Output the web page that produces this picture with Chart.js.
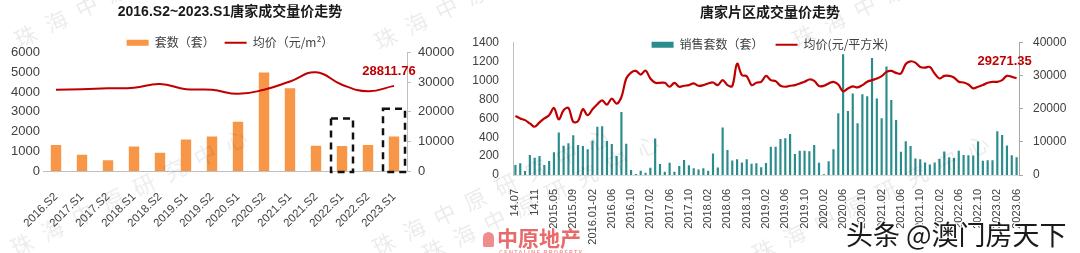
<!DOCTYPE html>
<html>
<head>
<meta charset="utf-8">
<script src="https://cdn.jsdelivr.net/npm/chart.js@4.4.0/dist/chart.umd.min.js"></script>
<style>
    html, body { margin: 0; padding: 0; background: #fff; }
    body { width: 1080px; height: 253px; position: relative; overflow: hidden; font-family: "Noto Sans CJK SC", sans-serif; }
    .chart-box { position: absolute; top: 0; height: 253px; }
    #leftBox { left: 0; width: 460px; }
    #rightBox { left: 460px; width: 620px; }
    .wm { position: absolute; color: rgba(0, 0, 0, 0.08); font-size: 22px; letter-spacing: 12px; white-space: nowrap; transform-origin: left bottom; transform: rotate(-26deg); pointer-events: none; }
    .logo { position: absolute; left: 483px; top: 222px; color: #e86a6a; font-weight: bold; font-size: 21px; letter-spacing: 0; }
    .logo i { display: inline-block; width: 11px; height: 15px; border-radius: 6px 6px 2px 2px; background: #f08c8c; margin-right: 3px; vertical-align: -1px; }
    .logo small { display: block; font-size: 6px; color: #f0a0a0; margin: -4px 0 0 16px; letter-spacing: 1px; }
    .stamp { position: absolute; left: 846px; top: 214px; font-size: 27px; color: #1a1a1a; white-space: nowrap;
             text-shadow: -1px -1px 0 #fff, 1px -1px 0 #fff, -1px 1px 0 #fff, 1px 1px 0 #fff, 0 0 3px #fff; }
</style>
</head>
<body>
<div id="leftBox" class="chart-box"><canvas id="halfYearChart"></canvas></div>
<div id="rightBox" class="chart-box"><canvas id="monthChart"></canvas></div>

<div class="wm" style="left:22px; top:22px;">珠海中原研究中心</div>
<div class="wm" style="left:382px; top:24px;">珠海中原研究中心</div>
<div class="wm" style="left:18px; top:230px;">珠海中原研究中心</div>
<div class="wm" style="left:380px; top:230px;">珠海中原研究中心</div>
<div class="wm" style="left:430px; top:236px;">珠海中原研究中心</div>
<div class="wm" style="left:760px; top:236px;">珠海中原研究中心</div>
<div class="wm" style="left:800px; top:22px;">珠海中原研究中心</div>

<div class="logo"><i></i>中原地产<small>CENTALINE PROPERTY</small></div>
<div class="stamp">头条 @澳门房天下</div>

<script>
// ---- half-year data (left chart) ----
const halfYears = ['2016.S2', '2017.S1', '2017.S2', '2018.S1', '2018.S2', '2019.S1', '2019.S2',
    '2020.S1', '2020.S2', '2021.S1', '2021.S2', '2022.S1', '2022.S2', '2023.S1'];
const halfYearUnits = [1320, 820, 550, 1250, 930, 1600, 1750, 2500, 5000, 4200, 1280, 1270, 1320, 1750];
const halfYearPrice = [27500, 27700, 28000, 28200, 29400, 27700, 27500, 26100, 27500, 30300, 33400, 29200, 27000, 28811.76];
const highlightedHalfYears = ['2022.S1', '2023.S1'];

// ---- monthly data (right chart) ----
const months = [
    '14.07', '14.08', '14.09', '14.10', '14.11', '14.12', '2015.01-02', '2015.03-04',
    '2015.05', '2015.06', '2015.07', '2015.08', '2015.09', '2015.10', '2015.11', '2015.12', '2016.01-02',
    '2016.03', '2016.04', '2016.05', '2016.06', '2016.07', '2016.08', '2016.09', '2016.10', '2016.11', '2016.12',
    '2017.01', '2017.02', '2017.03', '2017.04', '2017.05', '2017.06', '2017.07', '2017.08', '2017.09', '2017.10', '2017.11', '2017.12',
    '2018.01', '2018.02', '2018.03', '2018.04', '2018.05', '2018.06', '2018.07', '2018.08', '2018.09', '2018.10', '2018.11', '2018.12',
    '2019.01', '2019.02', '2019.03', '2019.04', '2019.05', '2019.06', '2019.07', '2019.08', '2019.09', '2019.10', '2019.11', '2019.12',
    '2020.01', '2020.02', '2020.03', '2020.04', '2020.05', '2020.06', '2020.07', '2020.08', '2020.09', '2020.10', '2020.11', '2020.12',
    '2021.01', '2021.02', '2021.03', '2021.04', '2021.05', '2021.06', '2021.07', '2021.08', '2021.09', '2021.10', '2021.11', '2021.12',
    '2022.01', '2022.02', '2022.03', '2022.04', '2022.05', '2022.06', '2022.07', '2022.08', '2022.09', '2022.10', '2022.11', '2022.12',
    '2023.01', '2023.02', '2023.03', '2023.04', '2023.05', '2023.06'
];
const monthUnits = [
    106, 124, 42, 212, 184, 201, 106, 148,
    240, 450, 310, 335, 420, 317, 307, 273, 365,
    510, 516, 360, 328, 201, 667, 330, 53, 10, 46,
    25, 78, 387, 116, 35, 130, 35, 95, 159, 102, 71, 58,
    71, 46, 229, 80, 502, 266, 153, 168, 132, 168, 118, 124,
    83, 128, 300, 300, 381, 388, 434, 222, 256, 258, 252, 318,
    130, 8, 145, 273, 653, 1278, 678, 862, 548, 856, 834, 1240,
    811, 600, 1150, 795, 582, 247, 358, 307, 176, 166, 132, 110,
    132, 170, 250, 188, 180, 258, 212, 208, 206, 356, 152, 156,
    157, 462, 423, 313, 210, 187
];
const monthPrice = [
    17900, 17100, 16600, 15600, 14600, 15900, 17100, 18100,
    20300, 16800, 19600, 20300, 16100, 16300, 19900, 18100, 19900,
    21400, 22600, 21300, 23100, 21600, 23600, 29200, 31000, 31500, 30400,
    31600, 29200, 27900, 27900, 27900, 26700, 27900, 26700, 27000, 27200, 27700, 27000,
    27200, 27700, 28000, 27200, 28700, 27200, 26900, 33700, 30200, 29900, 27200, 27900,
    28200, 30000, 28700, 28400, 27000, 26700, 27000, 27200, 27700, 28200, 28900, 28500,
    26900, 27000, 27700, 28200, 27400, 25300, 26200, 26800, 26500, 27200, 28200, 28700,
    29200, 29900, 31200, 31500, 30900, 30700, 33600, 34400, 34000, 32700, 32500, 32700,
    30700, 29200, 30000, 30000, 29500, 28200, 28000, 27400, 26200, 26700, 27200, 27900,
    28200, 28200, 28700, 30000, 29700, 29271.35
];

const RED = '#c00000';
const TEXT = '#404040';

Chart.defaults.font.family = '"Liberation Sans", "Noto Sans CJK SC", sans-serif';
Chart.defaults.color = TEXT;

document.addEventListener('DOMContentLoaded', function() {
    createHalfYearChart();
    createMonthChart();
});

// plain numbers on the value axes (no thousands separator)
const plainNumber = value => String(value);

/**
 * Lets the legend take less room in the layout than it draws in,
 * so the plot can start where the original one does
 */
function legendHeight(h) {
    return {
        id: 'legendHeight',
        beforeInit(chart) {
            const fit = chart.legend.fit;
            chart.legend.fit = function() {
                fit.call(this);
                this.fullHeight = this.height;
                this.height = h;
            };
        },
        afterLayout(chart) {
            const legend = chart.legend;
            legend.height = legend.fullHeight;
            legend.bottom = legend.top + legend.fullHeight;
        }
    };
}

/**
 * Writes the last value of a line dataset above its final point
 */
const lastValueLabel = {
    id: 'lastValueLabel',
    afterDatasetsDraw(chart, args, opts) {
        const meta = chart.getDatasetMeta(opts.datasetIndex);
        const point = meta.data[meta.data.length - 1];
        const values = chart.data.datasets[opts.datasetIndex].data;
        const ctx = chart.ctx;
        ctx.save();
        ctx.font = 'bold 13px "Liberation Sans", sans-serif';
        ctx.fillStyle = RED;
        ctx.textAlign = 'center';
        ctx.textBaseline = 'middle';
        ctx.fillText(values[values.length - 1].toFixed(2), point.x + opts.dx, point.y + opts.dy);
        ctx.restore();
    }
};

/**
 * Dashed frames around highlighted half-years
 */
const highlightBoxes = {
    id: 'highlightBoxes',
    afterDatasetsDraw(chart, args, opts) {
        const { ctx, scales: { x, y } } = chart;
        ctx.save();
        ctx.setLineDash([7, 5]);
        ctx.lineWidth = 2.5;
        ctx.strokeStyle = '#111';
        opts.labels.forEach((label, i) => {
            const cx = x.getPixelForValue(halfYears.indexOf(label));
            const top = y.getPixelForValue(opts.tops[i]);
            const bottom = y.getPixelForValue(0) + 1;
            ctx.strokeRect(cx - opts.halfWidth, top, opts.halfWidth * 2, bottom - top);
        });
        ctx.restore();
    }
};

const legendLabels = {
    usePointStyle: true,
    pointStyleWidth: 22,
    boxHeight: 6,
    color: TEXT,
    font: { size: 12, family: '"Noto Sans CJK SC", sans-serif' },
    sort: (a, b) => a.datasetIndex - b.datasetIndex
};

function createHalfYearChart() {
    const ctx = document.getElementById('halfYearChart');
    new Chart(ctx, {
        type: 'bar',
        data: {
            labels: halfYears,
            datasets: [{
                type: 'bar',
                label: '套数（套）',
                data: halfYearUnits,
                backgroundColor: '#f79646',
                borderWidth: 0,
                pointStyle: 'rect',
                barPercentage: 0.4,
                categoryPercentage: 1,
                yAxisID: 'y',
                order: 2
            }, {
                type: 'line',
                label: '均价（元/m²）',
                data: halfYearPrice,
                borderColor: RED,
                borderWidth: 2,
                tension: 0.45,
                pointRadius: 0,
                pointStyle: 'line',
                pointBorderColor: RED,
                pointBorderWidth: 2,
                yAxisID: 'y1',
                order: 1
            }]
        },
        options: {
            responsive: true,
            maintainAspectRatio: false,
            animation: false,
            layout: { padding: 0 },
            plugins: {
                title: {
                    display: true,
                    text: '2016.S2~2023.S1唐家成交量价走势',
                    color: '#1a1a1a',
                    font: { size: 14, weight: 'bold' },
                    padding: { top: 4, bottom: 6 }
                },
                legend: { labels: { ...legendLabels, padding: 10 } },
                tooltip: { enabled: false },
                lastValueLabel: { datasetIndex: 1, dx: -5, dy: -14 },
                highlightBoxes: { labels: highlightedHalfYears, tops: [2670, 3160], halfWidth: 11 }
            },
            scales: {
                x: {
                    grid: { display: false },
                    border: { color: '#bfbfbf' },
                    ticks: { minRotation: 45, maxRotation: 45, padding: 11, color: TEXT, font: { size: 11.5 } },
                    afterFit(scale) { scale.height = 82; }
                },
                y: {
                    min: 0,
                    max: 6000,
                    grid: { display: false, drawTicks: false },
                    border: { display: false },
                    ticks: { stepSize: 1000, padding: 3, color: TEXT, font: { size: 13 }, callback: plainNumber },
                    afterFit(scale) { scale.width = 43; }
                },
                y1: {
                    position: 'right',
                    min: 0,
                    max: 40000,
                    grid: { drawOnChartArea: false, tickLength: 4, color: '#bfbfbf' },
                    border: { color: '#bfbfbf' },
                    ticks: { stepSize: 10000, padding: 7, color: TEXT, font: { size: 13 }, callback: plainNumber },
                    afterFit(scale) { scale.width = 53; }
                }
            }
        },
        plugins: [legendHeight(26), lastValueLabel, highlightBoxes]
    });
}

function createMonthChart() {
    const ctx = document.getElementById('monthChart');
    new Chart(ctx, {
        type: 'bar',
        data: {
            labels: months,
            datasets: [{
                type: 'bar',
                label: '销售套数（套）',
                data: monthUnits,
                backgroundColor: '#2b8c8c',
                borderWidth: 0,
                pointStyle: 'rect',
                barPercentage: 0.45,
                categoryPercentage: 1,
                yAxisID: 'y',
                order: 2
            }, {
                type: 'line',
                label: '均价(元/平方米)',
                data: monthPrice,
                borderColor: RED,
                borderWidth: 2.2,
                tension: 0.35,
                pointRadius: 0,
                pointStyle: 'line',
                pointBorderColor: RED,
                pointBorderWidth: 2,
                yAxisID: 'y1',
                order: 1
            }]
        },
        options: {
            responsive: true,
            maintainAspectRatio: false,
            animation: false,
            layout: { padding: 0 },
            plugins: {
                title: {
                    display: true,
                    text: '唐家片区成交量价走势',
                    color: '#1a1a1a',
                    font: { size: 14, weight: 'bold' },
                    padding: { top: 5, bottom: 5 }
                },
                legend: { labels: { ...legendLabels, padding: 12 } },
                tooltip: { enabled: false },
                lastValueLabel: { datasetIndex: 1, dx: -12, dy: -17 }
            },
            scales: {
                x: {
                    grid: { display: false },
                    border: { color: '#d9d9d9' },
                    ticks: {
                        autoSkip: false,
                        minRotation: 90,
                        maxRotation: 90,
                        padding: 6,
                        color: TEXT,
                        font: { size: 11 },
                        callback: function(value, index) {
                            return index % 4 === 0 ? this.getLabelForValue(value) : '';
                        }
                    },
                    afterFit(scale) { scale.height = 78; }
                },
                y: {
                    min: 0,
                    max: 1400,
                    grid: { display: false, drawTicks: false },
                    border: { color: '#bfbfbf' },
                    ticks: { stepSize: 200, padding: 14, color: TEXT, font: { size: 12 }, callback: plainNumber },
                    afterFit(scale) { scale.width = 53; }
                },
                y1: {
                    position: 'right',
                    min: 0,
                    max: 40000,
                    grid: { drawOnChartArea: false, tickLength: 4, color: '#a6a6a6' },
                    border: { color: '#a6a6a6' },
                    ticks: { stepSize: 10000, padding: 10, color: TEXT, font: { size: 12 }, callback: plainNumber },
                    afterFit(scale) { scale.width = 61; }
                }
            }
        },
        plugins: [legendHeight(16), lastValueLabel]
    });
}
</script>
</body>
</html>
